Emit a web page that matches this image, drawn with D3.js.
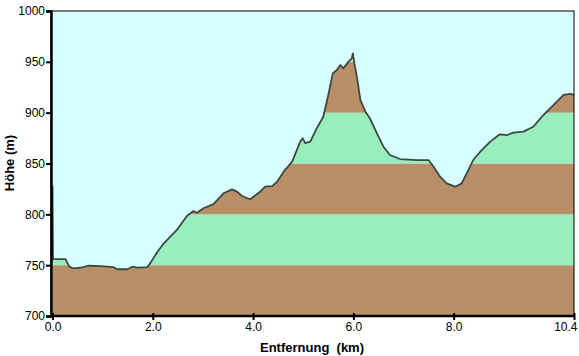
<!DOCTYPE html>
<html><head><meta charset="utf-8">
<script src="https://cdn.jsdelivr.net/npm/d3@7"></script>
<style>body{margin:0;background:#fff;}svg{display:block;}</style>
</head><body>
<svg id="c" width="579" height="356"></svg>
<script>
const distKm = [0.0,0.01,0.26,0.33,0.40,0.49,0.62,0.72,0.96,1.22,1.29,1.49,1.59,1.69,1.89,1.95,2.09,2.22,2.48,2.68,2.81,2.88,3.01,3.21,3.41,3.58,3.68,3.78,3.94,4.14,4.24,4.38,4.48,4.61,4.78,4.86,4.94,4.99,5.04,5.14,5.27,5.40,5.50,5.59,5.67,5.74,5.80,5.90,5.97,5.99,6.02,6.07,6.14,6.24,6.33,6.47,6.60,6.73,6.93,7.26,7.50,7.60,7.73,7.86,8.03,8.16,8.26,8.39,8.53,8.73,8.92,9.06,9.19,9.39,9.59,9.79,9.99,10.19,10.32,10.40];
const elevM = [828,756,756,749,747,747,748,749.5,749,748,746,746,748.5,747.5,748,752,763,771.5,784.6,798.4,803.3,801.6,806,810,820.7,824.6,822.3,818,814.8,822.3,827.2,827.8,832,842,851.8,861.6,871.5,874.8,870,871.5,884.6,896,917.4,938.7,942,946.9,943.6,950,953.5,958.4,948.6,935.4,912.5,901,894.4,879.7,866.5,858.4,854.4,853.4,853.4,846.8,837,830.5,827.2,830.5,840.3,853.4,861.6,871.5,878.7,878,880.3,881.3,886.2,897.7,907.5,917.4,918.4,917.4];
const xTicks = [0,2,4,6,8,10.4];
const yTicks = [700,750,800,850,900,950,1000];
const bandEdges = [700,750,800,850,900,950,1000];
const bandColors = ["#b88f66","#99efbb"];

const svg = d3.select("#c");
const L=51, R=574, T=11, B=316;
const x = d3.scaleLinear().domain([0,10.4]).range([L+1.5,R]);
const y = d3.scaleLinear().domain([700,1000]).range([B,T]);
const pts = distKm.map((d,i)=>[d,elevM[i]]);

svg.append("rect").attr("x",L).attr("y",T).attr("width",R-L).attr("height",B-T).attr("fill","#d8ffff");

const area = d3.area().x(d=>x(d[0])).y0(y(700)).y1(d=>y(d[1]));
svg.append("clipPath").attr("id","ac").append("path").attr("d",area(pts));
const g = svg.append("g").attr("clip-path","url(#ac)");
for(let i=0;i<bandEdges.length-1;i++){
  g.append("rect").attr("x",L).attr("width",R-L)
   .attr("y",y(bandEdges[i+1])).attr("height",y(bandEdges[i])-y(bandEdges[i+1]))
   .attr("fill",bandColors[i%2]);
}
const line = d3.line().x(d=>x(d[0])).y(d=>y(d[1]));
svg.append("path").attr("d",line(pts)).attr("fill","none").attr("stroke","#3c4844").attr("stroke-width",1.8).attr("stroke-linejoin","round");

// border
svg.append("rect").attr("x",L).attr("y",T).attr("width",R-L).attr("height",B-T).attr("fill","none").attr("stroke","#000").attr("stroke-width",1);

const font = "'Liberation Sans', Arial, sans-serif";
const yAxis = d3.axisLeft(y).tickValues(yTicks).tickSize(5).tickFormat(d3.format("d"));
const ya = svg.append("g").attr("transform",`translate(${L},0)`).call(yAxis);
ya.select(".domain").attr("stroke-width",2.5);
ya.selectAll(".tick line").attr("stroke-width",2);
ya.selectAll("text").attr("font-family",font).attr("font-size",12).attr("fill","#000").attr("x",-6);

const xAxis = d3.axisBottom(x).tickValues(xTicks).tickSize(4).tickFormat(d3.format(".1f"));
const xa = svg.append("g").attr("transform",`translate(0,${B})`).call(xAxis);
xa.select(".domain").attr("d",`M${L},0H${R}`).attr("stroke-width",2.5);
xa.selectAll(".tick line").attr("stroke-width",2).attr("y1",-3);
xa.selectAll("text").attr("font-family",font).attr("font-size",12).attr("fill","#000").attr("dy","0.85em").attr("y",5);
xa.selectAll(".tick text").filter(d=>d===10.4).attr("text-anchor","end").attr("x",3);

svg.append("text").attr("x",312).attr("y",352).attr("text-anchor","middle")
  .attr("font-family",font).attr("font-size",13).attr("font-weight","bold").attr("xml:space","preserve").text("Entfernung  (km)");
svg.append("text").attr("transform","translate(14,163) rotate(-90)").attr("text-anchor","middle")
  .attr("font-family",font).attr("font-size",13).attr("font-weight","bold").text("Höhe (m)");
</script>
</body></html>
